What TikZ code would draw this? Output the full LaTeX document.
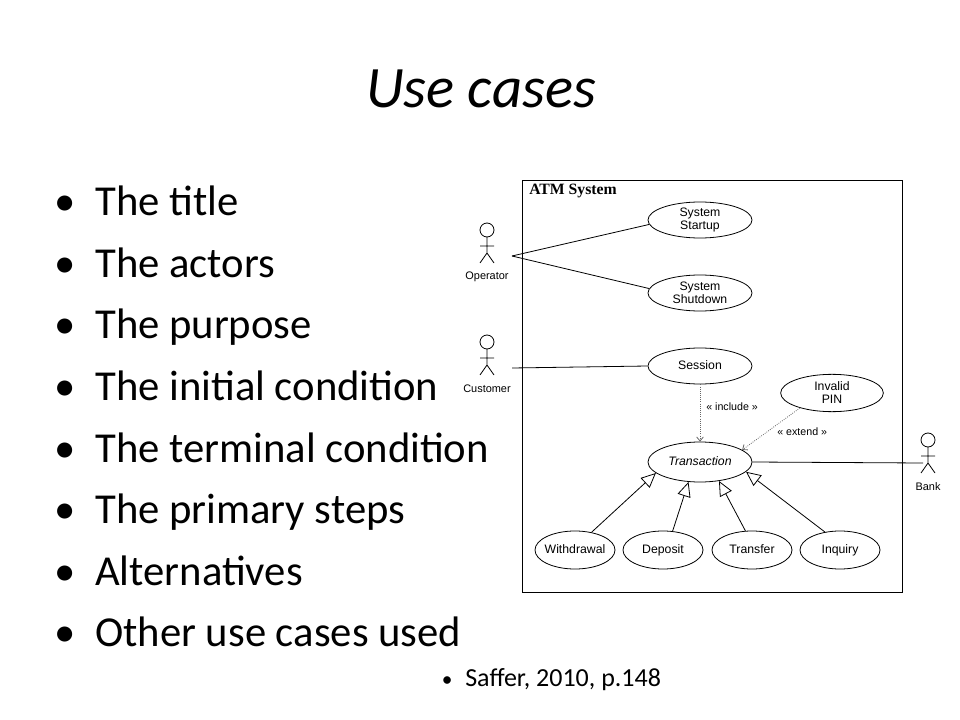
\documentclass[tikz,border=0pt]{standalone}
\usepackage{fontspec}
\setmainfont{Carlito}
\newfontfamily\umlfont{Liberation Sans}
\newfontfamily\umlserif{Liberation Serif}
\usetikzlibrary{arrows.meta,positioning,shapes.geometric}
% 项目符号
\newcommand{\bigdot}{\llap{\fontsize{32}{32}\selectfont\textbullet\hspace{15pt}}}
\newcommand{\smalldot}{\llap{\fontsize{16}{16}\selectfont\textbullet\hspace{9.5pt}}}
\tikzset{
  % 像素坐标 (960 x 720)
  px/.style={x=0.75pt, y=-0.75pt},
  % 幻灯片文字
  slidetitle/.style={anchor=base, inner sep=0pt, font=\itshape\fontsize{44}{53}\selectfont},
  item/.style={anchor=base west, inner sep=0pt, font=\fontsize{32}{38}\selectfont},
  subitem/.style={anchor=base west, inner sep=0pt, font=\fontsize{19.5}{23}\selectfont},
  % 系统边框
  sysbox/.style={draw, line width=0.6pt, minimum width=285pt, minimum height=309pt, inner sep=0pt},
  systitle/.style={anchor=north west, inner sep=0pt, font=\umlserif\bfseries\fontsize{11.8}{13}\selectfont},
  % 用例
  usecase/.style={
    draw, ellipse, line width=0.6pt,
    inner xsep=-3pt, inner ysep=0pt,
    minimum width=78pt, minimum height=27pt,
    align=center,
    font=\umlfont\fontsize{9.2}{9.75}\selectfont
  },
  oneline/.style={usecase, text height=6.6pt, text depth=1.9pt},
  leaf/.style={oneline, minimum width=60pt, minimum height=28.5pt},
  % 文字标签
  actorlbl/.style={inner sep=0pt, font=\umlfont\fontsize{8.2}{9}\selectfont},
  stereo/.style={anchor=west, inner sep=0pt, font=\umlfont\fontsize{8}{9}\selectfont},
  % 连线样式
  assoc/.style={line width=0.6pt},
  dep/.style={densely dotted, line width=0.6pt, black!60, -{Straight Barb[length=3pt, width=5pt]}},
  gen/.style={line width=0.6pt, -{Triangle[open, length=11pt, width=10pt]}},
  % 参与者小人
  actor/.pic={
    \draw[line width=0.6pt] (0,0) circle[radius=7];
    \draw[line width=0.6pt] (0,7) -- (0,23) (-7,16) -- (7,16) (-7,33) -- (0,23) -- (7,33);
    \coordinate (-east) at (25,26);
    \coordinate (-west) at (-5,23);
    \node[actorlbl] (-lbl) at (0,47) {#1};
  }
}

\begin{document}
\begin{tikzpicture}[px]
    \useasboundingbox (0,0) rectangle (960,720);

    % Title
    \node[slidetitle] (title) at (481,108) {Use cases};

    % Bullet list
    \node[item] (b1) at (95,216)   {\bigdot The title};
    \node[item] (b2) at (95,277.5) {\bigdot The actors};
    \node[item] (b3) at (95,339)   {\bigdot The purpose};
    \node[item] (b4) at (95,400.5) {\bigdot The initial condition};
    \node[item] (b5) at (95,462)   {\bigdot The terminal condition};
    \node[item] (b6) at (95,523.5) {\bigdot The primary steps};
    \node[item] (b7) at (95,585)   {\bigdot Alternatives};
    \node[item] (b8) at (95,646.5) {\bigdot Other use cases used};
    \node[subitem] (src) at (465,686) {\smalldot Saffer, 2010, p.148};

    % ATM system boundary
    \node[sysbox] (atm) at (712,386) {};
    \node[systitle] (atmlbl) at (529,184) {ATM System};

    % Use cases
    \node[usecase] (startup)  at (700,220) {System\\Startup};
    \node[usecase] (shutdown) at (700,293) {System\\Shutdown};
    \node[oneline] (session)  at (700,366) {Session};
    \node[usecase, minimum width=77pt, minimum height=28pt] (invalid) at (832,393) {Invalid\\PIN};
    \node[oneline, minimum height=30pt] (trans) at (700,462) {\itshape Transaction};
    \node[leaf] (withdraw) at (575,550) {Withdrawal};
    \node[leaf] (deposit)  at (663,550) {Deposit};
    \node[leaf] (transfer) at (752,550) {Transfer};
    \node[leaf] (inquiry)  at (840,550) {Inquiry};

    % Actors
    \pic (op)   at (487,230) {actor=Operator};
    \pic (cust) at (487,342) {actor=Customer};
    \pic (bank) at (928,440) {actor=Bank};

    % Associations
    \draw[assoc] (op-east) -- (startup.185);
    \draw[assoc] (op-east) -- (shutdown.175);
    \draw[assoc] (cust-east) -- (session.west);
    \draw[assoc] (trans.east) -- (bank-west);

    % include / extend
    \draw[dep] (session.south) -- (trans.north);
    \node[stereo] (inc) at (706,407) {« include »};
    \draw[dep] (invalid.205) -- (trans.16);
    \node[stereo] (ext) at (777,432) {« extend »};

    % Generalization
    \draw[gen] (withdraw.47) -- (trans.194);
    \draw[gen] (deposit.63)  -- (trans.240);
    \draw[gen] (transfer.109) -- (trans.315);
    \draw[gen] (inquiry.130) -- (trans.348);
\end{tikzpicture}
\end{document}
